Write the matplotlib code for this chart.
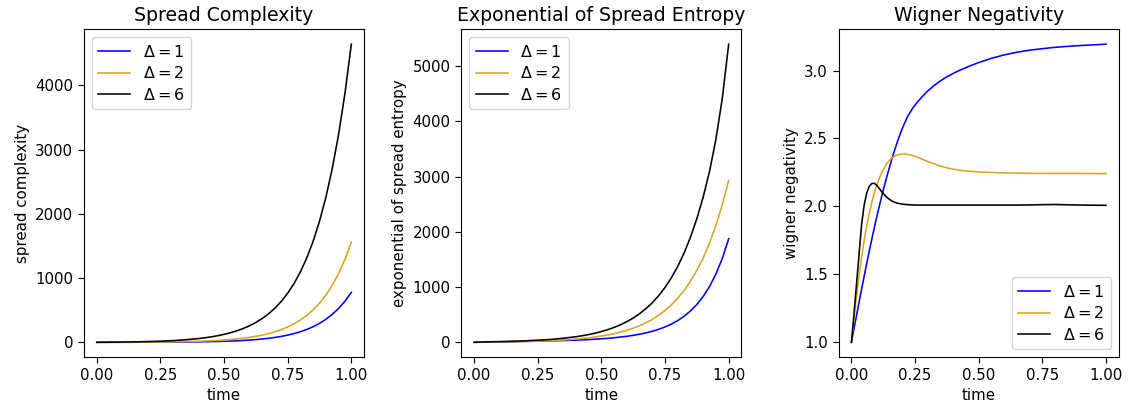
import numpy as np
import matplotlib
matplotlib.use("Agg")
import matplotlib.pyplot as plt

# time grid for the two growing quantities (denser where they blow up)
t = [0.0, 0.05, 0.1, 0.15, 0.2, 0.25, 0.3, 0.35, 0.4,
     0.425, 0.45, 0.475, 0.5, 0.525, 0.55, 0.575, 0.6, 0.625, 0.65,
     0.675, 0.7, 0.725, 0.75, 0.775, 0.8, 0.825, 0.85, 0.875, 0.9,
     0.925, 0.95, 0.975, 1.0]

# spread complexity
sc_d1 = [0, 0.16, 0.39, 0.74, 1.24, 2.0, 3.1, 4.7, 7.1,
         8.7, 10.6, 13.0, 15.8, 19.3, 23.5, 28.5, 34.7, 42.2, 51.3,
         62.3, 75.7, 92, 112, 136, 165, 200, 243, 295, 358,
         435, 527, 640, 777]
sc_d2 = [0, 0.39, 0.96, 1.8, 3.0, 4.8, 7.3, 11.0, 16.5,
         20.0, 24.3, 29.6, 35.8, 43.4, 52.5, 63.5, 76.8, 92.9, 112,
         135.5, 164, 197.5, 238, 288, 347, 419, 506, 610, 736,
         888, 1072, 1293, 1560]
sc_d6 = [0, 1.5, 3.7, 6.7, 11.2, 17.5, 26.6, 39.7, 58,
         70.5, 85, 102.6, 124, 148.5, 179, 214.4, 257, 309, 371,
         444, 533, 638, 765, 916, 1098, 1315, 1574, 1886, 2259,
         2704, 3239, 3879, 4643]

# exponential of spread entropy
es_d1 = [1, 4, 8, 12, 17, 22, 27, 33, 40.3,
         45.0, 50.5, 56.8, 64.3, 73.0, 83.3, 95.4, 109.8, 126.9, 147.3,
         171.7, 201.1, 236.5, 279.3, 331.4, 394.9, 472.6, 567.9, 685.7, 831,
         1012, 1238, 1521, 1875]
es_d2 = [1, 5, 8.4, 11.7, 16.2, 22.4, 31, 42.9, 59.4,
         69.8, 82, 96.7, 114, 134, 157, 185, 218, 256, 302,
         355, 417, 491, 578, 680, 800, 941, 1107, 1302, 1530,
         1801, 2117, 2493, 2930]
es_d6 = [1, 9, 14, 20, 28, 39, 53, 74, 102,
         120, 141, 166, 196, 230, 270, 318, 375, 440, 519,
         611, 717, 845, 994, 1170, 1376, 1619, 1904, 2240, 2632,
         3100, 3680, 4420, 5397]

# wigner negativity (finer grid at early times)
t_w = [0.0, 0.01, 0.02, 0.03, 0.04, 0.05, 0.06, 0.07, 0.08, 0.09, 0.1,
       0.12, 0.14, 0.16, 0.18, 0.2, 0.22, 0.24, 0.26, 0.28, 0.3,
       0.325, 0.35, 0.375, 0.4, 0.425, 0.45, 0.475, 0.5,
       0.55, 0.6, 0.65, 0.7, 0.75, 0.8, 0.85, 0.9, 0.95, 1.0]
wn_d1 = [1.0, 1.099, 1.198, 1.295, 1.392, 1.486, 1.58, 1.671, 1.759, 1.845, 1.928,
         2.085, 2.227, 2.357, 2.474, 2.576, 2.66, 2.722, 2.77, 2.812, 2.85,
         2.89, 2.925, 2.954, 2.979, 3.002, 3.022, 3.041, 3.059,
         3.09, 3.115, 3.135, 3.15, 3.161, 3.171, 3.178, 3.184, 3.189, 3.194]
wn_d2 = [1.0, 1.17, 1.34, 1.49, 1.63, 1.75, 1.855, 1.95, 2.03, 2.10, 2.16,
         2.255, 2.32, 2.36, 2.38, 2.386, 2.383, 2.375, 2.362, 2.346, 2.33,
         2.313, 2.297, 2.284, 2.274, 2.266, 2.261, 2.257, 2.254,
         2.25, 2.247, 2.245, 2.244, 2.243, 2.243, 2.243, 2.243, 2.242, 2.242]
wn_d6 = [1.0, 1.21, 1.43, 1.65, 1.87, 2.01, 2.1, 2.148, 2.169, 2.17, 2.155,
         2.105, 2.065, 2.038, 2.024, 2.017, 2.013, 2.011, 2.01, 2.01, 2.01,
         2.01, 2.01, 2.01, 2.01, 2.01, 2.01, 2.01, 2.01,
         2.01, 2.01, 2.01, 2.011, 2.013, 2.014, 2.012, 2.01, 2.009, 2.008]

labels = [r'$\Delta = 1$', r'$\Delta = 2$', r'$\Delta = 6$']
colors = ['blue', 'goldenrod', 'black']

plt.rcParams['font.size'] = 10.8
plt.rcParams['xtick.major.size'] = 4.2
plt.rcParams['ytick.major.size'] = 4.2

fig, axes = plt.subplots(1, 3, figsize=(11.28, 4.05), dpi=100)
fig.subplots_adjust(left=0.0745, right=0.9918, bottom=0.118, top=0.9277,
                    wspace=0.3475)

panels = [
    (t, [sc_d1, sc_d2, sc_d6], 'Spread Complexity', 'spread complexity', 'upper left'),
    (t, [es_d1, es_d2, es_d6], 'Exponential of Spread Entropy',
     'exponential of spread entropy', 'upper left'),
    (t_w, [wn_d1, wn_d2, wn_d6], 'Wigner Negativity', 'wigner negativity', 'lower right'),
]

for ax, (tt, series, title, ylab, loc) in zip(axes, panels):
    for ys, lab, col in zip(series, labels, colors):
        ax.plot(tt, ys, color=col, lw=1.15, label=lab)
    ax.set_title(title, fontsize=13.6)
    ax.set_xlabel('time')
    ax.set_ylabel(ylab)
    ax.set_xticks([0.0, 0.25, 0.5, 0.75, 1.0])
    ax.legend(loc=loc, fontsize=11.5, handlelength=2.0, labelspacing=0.35)

fig.savefig('out.png')
